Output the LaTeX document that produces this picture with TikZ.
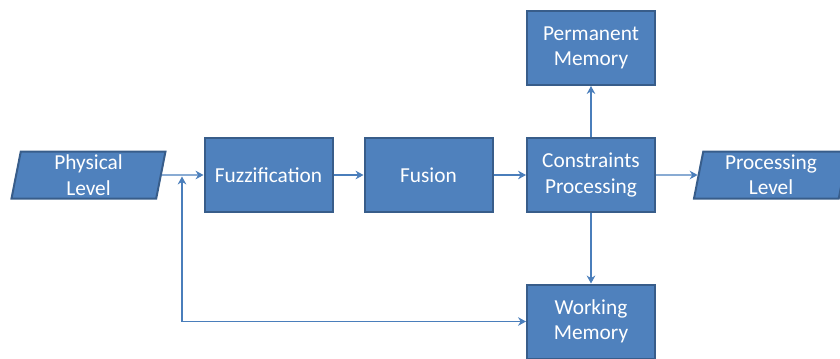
\documentclass[tikz,border=0pt]{standalone}
\usepackage{fontspec}
\setmainfont{Carlito}
\usetikzlibrary{arrows.meta,shapes.geometric}
\definecolor{boxfill}{HTML}{4F81BD}
\definecolor{boxline}{HTML}{385D8A}
\definecolor{linkcol}{HTML}{4A7EBB}
\tikzset{
  block/.style={draw=boxline,fill=boxfill,line width=1.5pt,text=white,
    minimum width=96pt,minimum height=55.5pt,inner sep=0pt,align=center},
  iobox/.style={trapezium,trapezium left angle=77,trapezium right angle=103,
    trapezium stretches body,draw=boxline,fill=boxfill,line width=1.5pt,
    text=white,minimum width=115.5pt,minimum height=35.25pt,inner sep=0pt,align=center},
  link/.style={draw=linkcol,line width=0.8pt},
  tip/.tip={Stealth[length=6pt,width=6.5pt,inset=2pt]},
}
\begin{document}
\begin{tikzpicture}[x=0.75pt,y=-0.75pt,font=\fontsize{16}{19}\selectfont]
  \useasboundingbox (0,0) rectangle (840,358);
  \node[iobox] (phys) at (88.5,175) {Physical\\Level};
  \node[block] (fuzz) at (268.5,175) {Fuzzification};
  \node[block] (fusion) at (428.5,175) {Fusion};
  \node[block] (cons) at (591,175) {Constraints\\Processing};
  \node[block] (perm) at (591,48) {Permanent\\Memory};
  \node[block] (work) at (591,321.5) {Working\\Memory};
  \node[iobox] (proc) at (771,175) {Processing\\Level};
  \coordinate (fb) at (182,176.5);

  \draw[link,-tip] (phys.east) -- (fuzz.west);
  \draw[link,-tip] (fuzz.east) -- (fusion.west);
  \draw[link,-tip] (fusion.east) -- (cons.west);
  \draw[link,-tip] (cons.east) -- (proc.west);
  \draw[link,-tip] (cons.north) -- (perm.south);
  \draw[link,-tip] (cons.south) -- (work.north);
  \draw[link,tip-tip] (fb) |- (work.west);
\end{tikzpicture}
\end{document}
